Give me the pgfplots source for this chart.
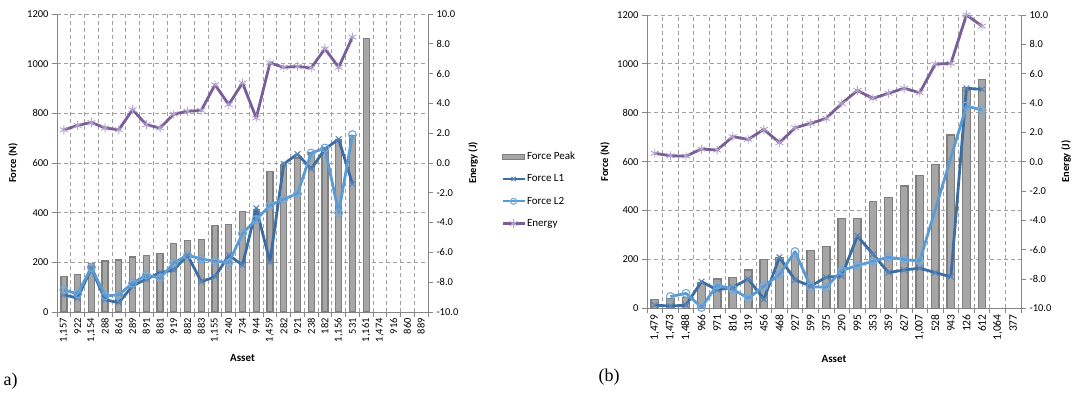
\documentclass[border=0pt]{standalone}
\usepackage{fontspec}
\setmainfont{Carlito}
\newfontfamily\seriffont{Liberation Serif}
\usepackage{pgfplots}
\usepackage{pgfplotstable}
\pgfplotsset{compat=1.18}

\definecolor{barfill}{HTML}{A6A6A6}
\definecolor{bardraw}{HTML}{7F7F7F}
\definecolor{cA}{HTML}{3D6EA3}
\definecolor{cAm}{HTML}{5A86BA}
\definecolor{cB}{HTML}{5B9BD5}
\definecolor{cBm}{HTML}{6FA8DC}
\definecolor{cE}{HTML}{7A5E97}
\definecolor{cEm}{HTML}{B3A3CC}
\definecolor{axgray}{HTML}{868686}
\definecolor{gridgray}{HTML}{A0A0A0}

\pgfplotstableread{
i peak L1 L2 E
1 142 69 89 2.23
2 152 56 73 2.52
3 196 176 180 2.72
4 205 49 65 2.35
5 209 38 69 2.23
6 222 105 116 3.58
7 227 132 149 2.57
8 236 158 136 2.35
9 276 169 198 3.28
10 289 229 229 3.47
11 293 122 213 3.53
12 349 142 205 5.25
13 353 229 198 3.92
14 406 189 316 5.37
15 412 418 372 3.02
16 565 201 429 6.72
17 592 596 455 6.42
18 620 636 476 6.48
19 640 576 640 6.38
20 662 656 660 7.67
21 696 696 399 6.42
22 710 516 714 8.45
23 1100 nan nan nan
}\tabA

\pgfplotstableread{
i peak L1 L2 E
1 37 13 nan 0.57
2 40 9 48 0.40
3 45 13 61 0.38
4 105 109 4 0.86
5 120 75 95 0.79
6 125 86 78 1.70
7 157 120 41 1.52
8 200 37 90 2.20
9 208 209 139 1.29
10 222 116 232 2.31
11 236 91 88 2.61
12 252 127 86 2.95
13 368 132 155 3.97
14 368 296 175 4.85
15 436 221 192 4.32
16 452 146 209 4.66
17 500 157 200 5.00
18 542 164 193 4.70
19 587 146 nan 6.65
20 709 129 nan 6.70
21 903 900 828 10.0
22 937 896 811 9.24
}\tabB

\pgfplotsset{
  noarrows/.style={
    every outer x axis line/.append style={-},
    every outer y axis line/.append style={-},
    every inner x axis line/.append style={-},
    every inner y axis line/.append style={-},
  },
  forceax/.style={
    scale only axis, noarrows,
    axis x line*=bottom, axis y line*=left,
    axis line style={draw=axgray, line width=0.9pt},
    ymin=0, ymax=1200, ytick={0,200,...,1200},
    /pgf/number format/1000 sep={},
    /pgf/number format/assume math mode=true,
    ymajorgrids, xminorgrids,
    major grid style={draw=gridgray, dash pattern=on 4pt off 3pt, line width=0.8pt},
    minor grid style={draw=gridgray, dash pattern=on 4pt off 3pt, line width=0.8pt},
    tick align=outside,
    major tick length=5pt, minor tick length=5pt,
    major x tick style={draw=none},
    minor x tick style={draw=axgray, line width=0.8pt},
    major y tick style={draw=axgray, line width=0.8pt},
    tick label style={font=\fontsize{10.5}{12}\selectfont, text=black},
    xticklabel style={rotate=90, anchor=east, inner sep=1pt},
    ylabel style={font=\bfseries\fontsize{10.5}{12}\selectfont, anchor=center},
    xlabel style={font=\bfseries\fontsize{11}{12}\selectfont, anchor=center},
    clip=false,
  },
  energyax/.style={
    scale only axis, noarrows,
    axis y line*=right, axis x line=none,
    axis line style={draw=axgray, line width=0.9pt},
    ymin=-10, ymax=10, ytick={-10,-8,...,10}, xtick=\empty,
    /pgf/number format/assume math mode=true,
    yticklabel style={/pgf/number format/.cd, fixed, fixed zerofill, precision=1},
    tick align=outside, major tick length=5pt,
    major y tick style={draw=axgray, line width=0.8pt},
    tick label style={font=\fontsize{10.5}{12}\selectfont, text=black},
    ylabel style={font=\bfseries\fontsize{10.5}{12}\selectfont, anchor=center},
    clip=false,
  },
  barst/.style={ybar, bar shift=0pt, fill=barfill, draw=bardraw, line width=1.3pt},
  l1/.style={color=cA, line width=2.8pt, line join=round, mark=x, mark size=4pt,
    mark options={solid, line width=1.1pt, draw=cAm}},
  l2/.style={color=cB, line width=2.8pt, line join=round, mark=o, mark size=4pt,
    mark options={solid, line width=1.1pt, draw=cBm, fill=none}},
  en/.style={color=cE, line width=2.8pt, line join=round, mark=asterisk, mark size=4.5pt,
    mark options={solid, line width=0.9pt, draw=cEm}},
}

\begin{document}
\begin{tikzpicture}
\useasboundingbox (0pt,0pt) rectangle (1072pt,403pt);

% ---------------- chart (a)
\begin{axis}[forceax, at={(57pt,91pt)}, anchor=south west,
  width=371pt, height=298pt,
  xmin=0.5, xmax=27.5,
  xtick={1,...,27},
  xticklabels={{1,157},922,{1,154},288,861,289,891,881,919,882,883,{1,155},240,734,944,{1,459},282,921,238,182,{1,156},531,{1,161},{1,474},916,860,889},
  minor xtick={0.5,1.5,...,27.5},
  ylabel={Force (N)}, ylabel style={at={(axis description cs:-0.1186,0.5)}},
  xlabel={Asset}, xlabel style={at={(axis description cs:0.5,-0.153)}},
]
\addplot[barst, bar width=6pt] table[x=i,y=peak]{\tabA};
\addplot[l1] table[x=i,y=L1]{\tabA};
\addplot[l2] table[x=i,y=L2]{\tabA};
\end{axis}

\begin{axis}[energyax, at={(57pt,91pt)}, anchor=south west,
  width=371pt, height=298pt,
  xmin=0.5, xmax=27.5,
  ylabel={Energy (J)}, ylabel style={at={(axis description cs:1.1213,0.5)}},
  legend image code/.code={\draw[mark repeat=2,mark phase=2,#1] plot coordinates {(0pt,0pt) (11pt,0pt) (22pt,0pt)};},
  legend style={at={(rel axis cs:1.1968,0.5386)}, anchor=north west, draw=none, fill=none,
    inner sep=0pt, row sep=12.3pt, column sep=1pt,
    font=\fontsize{11}{12}\selectfont,
    nodes={text height=8pt, text depth=2pt, inner sep=0pt}},
  legend cell align=left,
]
\addlegendimage{legend image code/.code={\draw[fill=barfill,draw=bardraw,line width=1.2pt] (0pt,-2.5pt) rectangle (22pt,2.5pt);}}
\addlegendentry{Force Peak}
\addlegendimage{l1, line width=2.2pt, mark size=3pt}
\addlegendentry{Force L1}
\addlegendimage{l2, line width=2.2pt, mark size=3pt}
\addlegendentry{Force L2}
\addplot[en] table[x=i,y=E]{\tabA};
\addlegendentry{Energy}
\end{axis}

% ---------------- chart (b)
\begin{axis}[forceax, at={(647pt,94.7pt)}, anchor=south west,
  width=374pt, height=293.3pt,
  xmin=0.5, xmax=24.5,
  xtick={1,...,24},
  xticklabels={{1,479},{1,473},{1,488},966,971,816,319,456,468,927,599,375,290,995,353,359,627,{1,007},528,943,126,612,{1,064},377},
  minor xtick={0.5,1.5,...,24.5},
  xticklabel style={font=\fontsize{11.5}{12}\selectfont},
  ylabel={Force (N)}, ylabel style={at={(axis description cs:-0.1123,0.5)}},
  xlabel={Asset}, xlabel style={at={(axis description cs:0.5,-0.173)}},
]
\addplot[barst, bar width=7.5pt] table[x=i,y=peak]{\tabB};
\addplot[l1] table[x=i,y=L1]{\tabB};
\addplot[l2] table[x=i,y=L2]{\tabB};
\end{axis}

\begin{axis}[energyax, at={(647pt,94.7pt)}, anchor=south west,
  width=374pt, height=293.3pt,
  xmin=0.5, xmax=24.5,
  ylabel={Energy (J)}, ylabel style={at={(axis description cs:1.1203,0.5)}},
]
\addplot[en] table[x=i,y=E]{\tabB};
\end{axis}

\node[anchor=west, font=\seriffont\fontsize{18}{20}\selectfont] at (0pt,21.5pt) {a)};
\node[anchor=west, font=\seriffont\fontsize{18}{20}\selectfont] at (595pt,26pt) {(b)};
\end{tikzpicture}
\end{document}
